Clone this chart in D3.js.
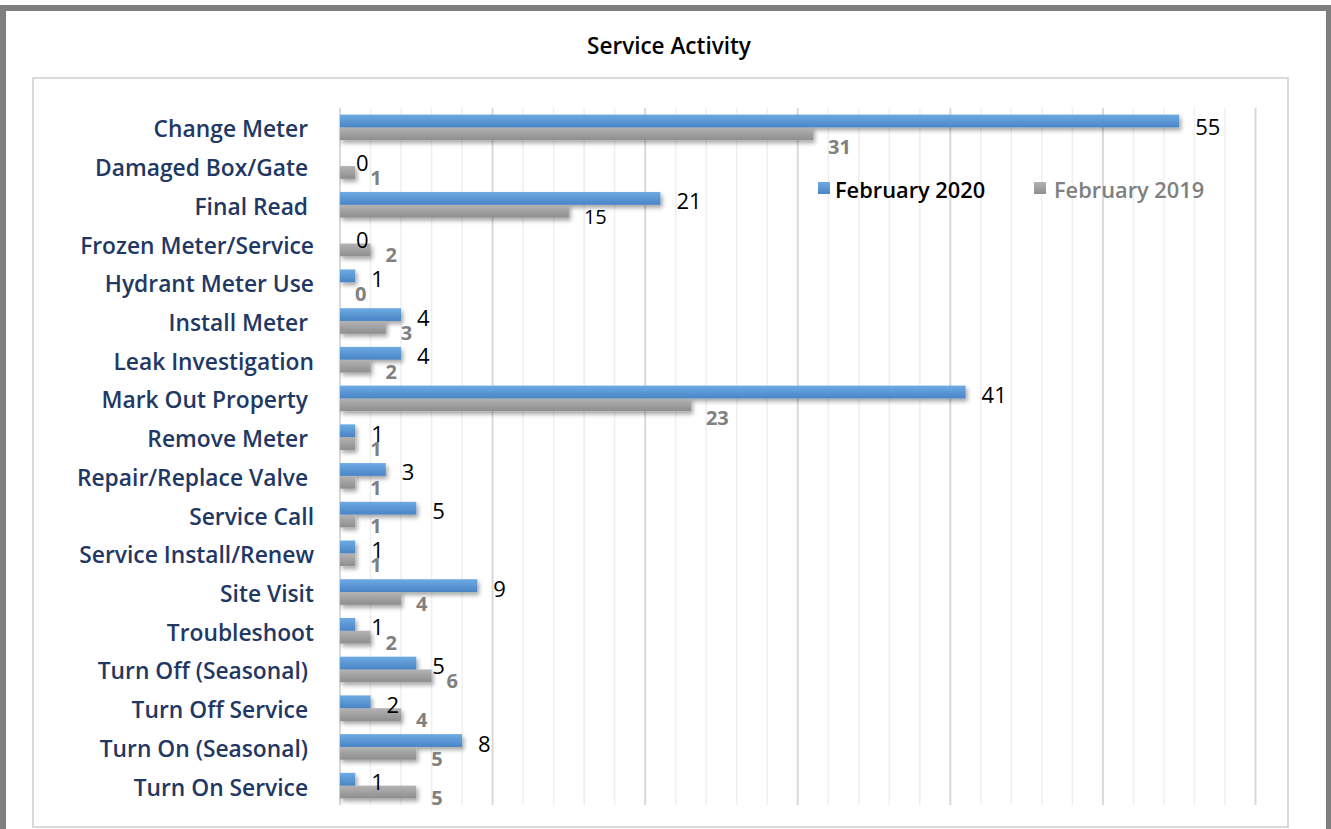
<!DOCTYPE html>
<html>
<head>
<meta charset="utf-8">
<script src="https://cdn.jsdelivr.net/npm/d3@7/dist/d3.min.js"></script>
<style>
  html, body { margin: 0; padding: 0; background: #fff; }
  svg { display: block; font-family: "Open Sans", "Noto Sans", sans-serif; }
  text { white-space: pre; }
</style>
</head>
<body>
<svg id="chart" width="1331" height="829"></svg>
<script>
// ---- data ----
const categories = [
  "Change Meter ", "Damaged Box/Gate ", "Final Read ", "Frozen Meter/Service",
  "Hydrant Meter Use", "Install Meter ", "Leak Investigation", "Mark Out Property ",
  "Remove Meter ", "Repair/Replace Valve ", "Service Call", "Service Install/Renew",
  "Site Visit", "Troubleshoot", "Turn Off (Seasonal) ", "Turn Off Service ",
  "Turn On (Seasonal) ", "Turn On Service "
];
const feb2020 = [55, 0, 21, 0, 1, 4, 4, 41, 1, 3, 5, 1, 9, 1, 5, 2, 8, 1];
const feb2019 = [31, 1, 15, 2, 0, 3, 2, 23, 1, 1, 1, 1, 4, 2, 6, 4, 5, 5];
const seriesNames = ["February 2020", "February 2019"];
const xTicks = d3.range(0, 61, 2);
const title = "Service Activity";

// ---- drawing ----
const svg = d3.select("#chart");
const defs = svg.append("defs");

const gBlue = defs.append("linearGradient").attr("id", "gBlue").attr("x1", 0).attr("y1", 0).attr("x2", 0).attr("y2", 1);
gBlue.append("stop").attr("offset", "0%").attr("stop-color", "#6EAAE2");
gBlue.append("stop").attr("offset", "100%").attr("stop-color", "#4985C6");
const gGray = defs.append("linearGradient").attr("id", "gGray").attr("x1", 0).attr("y1", 0).attr("x2", 0).attr("y2", 1);
gGray.append("stop").attr("offset", "0%").attr("stop-color", "#B3B3B3");
gGray.append("stop").attr("offset", "100%").attr("stop-color", "#8E8E8E");
const sh = defs.append("filter").attr("id", "shadow").attr("x", "-10%").attr("y", "-50%").attr("width", "130%").attr("height", "250%");
sh.append("feDropShadow").attr("dx", 2).attr("dy", 3).attr("stdDeviation", 2)
  .attr("flood-color", "#000").attr("flood-opacity", 0.35);

// outer frame
svg.append("rect").attr("x", 3).attr("y", 8).attr("width", 1326).attr("height", 900)
  .attr("fill", "none").attr("stroke", "#7F7F7F").attr("stroke-width", 6);

// title
svg.append("text").attr("x", 669).attr("y", 54).attr("text-anchor", "middle")
  .attr("font-size", 22.5).attr("font-weight", 600).attr("fill", "#000").text(title);

// inner plot frame
svg.append("rect").attr("x", 33).attr("y", 78).attr("width", 1255).attr("height", 749)
  .attr("fill", "#fff").attr("stroke", "#D9D9D9").attr("stroke-width", 2);

const x = d3.scaleLinear().domain([0, 60]).range([340, 1255.5]);
const y = d3.scaleBand().domain(categories).range([108, 805]).paddingInner(0.34).paddingOuter(0.17);
const bh = y.bandwidth() / 2;

// gridlines
svg.append("g").selectAll("line").data(xTicks).join("line")
  .attr("x1", d => x(d)).attr("x2", d => x(d))
  .attr("y1", 108).attr("y2", 805)
  .attr("stroke", d => d % 10 === 0 ? "#D9D9D9" : "#EFEFEF")
  .attr("stroke-width", d => d % 10 === 0 ? 2 : 1.5);

// category labels
svg.append("g").selectAll("text").data(categories).join("text")
  .attr("x", 314).attr("y", d => y(d) + bh + 1.5)
  .attr("text-anchor", "end").attr("dominant-baseline", "central")
  .attr("font-size", 22.8).attr("font-weight", 600).attr("fill", "#1F3864")
  .text(d => d);

// bars
const rows = categories.map((c, i) => ({ c, a: feb2020[i], b: feb2019[i] }));
const gb = svg.append("g").attr("filter", "url(#shadow)");
gb.selectAll("rect.b").data(rows).join("rect").attr("class", "b")
  .attr("x", x(0)).attr("y", d => y(d.c) + bh)
  .attr("width", d => x(d.b) - x(0)).attr("height", bh)
  .attr("fill", "url(#gGray)");
gb.selectAll("rect.a").data(rows).join("rect").attr("class", "a")
  .attr("x", x(0)).attr("y", d => y(d.c))
  .attr("width", d => x(d.a) - x(0)).attr("height", bh)
  .attr("fill", "url(#gBlue)");

// data labels
svg.append("g").selectAll("text").data(rows).join("text")
  .attr("x", d => x(d.b) + 15).attr("y", d => y(d.c) + bh * 1.5 + (d.b > 20 ? 13 : 5))
  .attr("dominant-baseline", "central")
  .attr("font-size", 20).attr("font-weight", d => d.c === "Final Read " ? 400 : 700)
  .attr("fill", d => d.c === "Final Read " ? "#000" : "#808080")
  .text(d => d.b);
svg.append("g").selectAll("text").data(rows).join("text")
  .attr("x", d => x(d.a) + 16).attr("y", d => y(d.c) + bh * 0.5 + (d.a > 50 ? 5 : 2))
  .attr("dominant-baseline", "central")
  .attr("font-size", 22).attr("font-weight", 400).attr("fill", "#000")
  .text(d => d.a);

// legend
const lg = svg.append("g");
const legendX = [818, 1034];
const legendTextX = [835, 1054];
const legendText = ["#000", "#808080"];
seriesNames.forEach((n, i) => {
  lg.append("rect").attr("x", legendX[i]).attr("y", 182).attr("width", 12).attr("height", 12)
    .attr("fill", i === 0 ? "url(#gBlue)" : "url(#gGray)");
  lg.append("text").attr("x", legendTextX[i]).attr("y", 189).attr("dominant-baseline", "central")
    .attr("font-size", 21.8).attr("font-weight", 600).attr("fill", legendText[i]).text(n);
});
</script>
</body>
</html>
